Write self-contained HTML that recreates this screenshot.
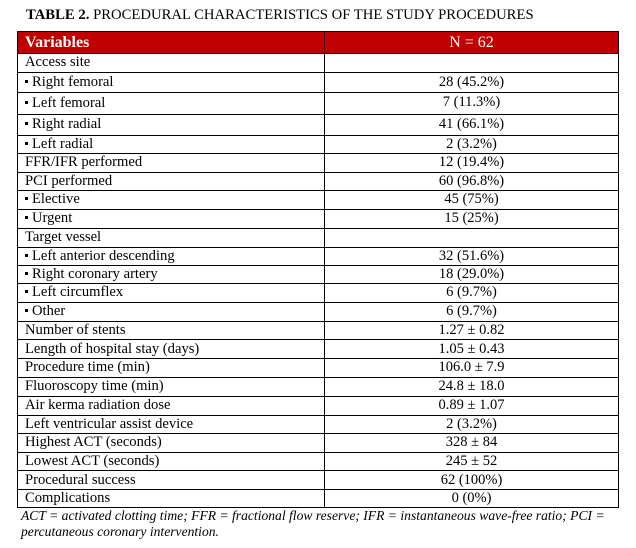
<!DOCTYPE html>
<html><head><meta charset="utf-8">
<style>
html,body{margin:0;padding:0;background:#fff;}
body{width:636px;height:548px;position:relative;overflow:hidden;font-family:"Liberation Serif",serif;color:#000;}
.t{position:absolute;left:26px;top:6px;font-size:14.7px;white-space:nowrap;line-height:18px;}
.hdr{position:absolute;left:17px;top:31px;width:601px;height:22px;background:#c00000;}
.h{position:absolute;height:1px;background:#000;left:17px;width:602px;}
.v{position:absolute;width:1px;background:#000;top:31px;height:477px;}
.c1{position:absolute;left:25px;white-space:nowrap;font-size:14.6px;}
.c2{position:absolute;left:324px;width:295px;text-align:center;white-space:nowrap;font-size:14.5px;}
.b{display:inline-block;width:3px;height:3px;background:#000;vertical-align:middle;margin-right:4px;position:relative;top:-1px;}
.fn{position:absolute;left:21px;font-style:italic;font-size:13.6px;white-space:nowrap;line-height:16px;}
</style></head><body>
<div class="t"><b>TABLE 2.</b> PROCEDURAL CHARACTERISTICS OF THE STUDY PROCEDURES</div>
<div class="hdr"></div>
<div class="c1" style="top:32px;height:22px;line-height:22px;color:#fff;font-weight:bold;font-size:16px;">Variables</div>
<div class="c2" style="top:32px;height:22px;line-height:22px;color:#fff;font-size:16px;">N = 62</div>

<div class="c1" style="top:53px;line-height:19px;">Access site</div>
<div class="c1" style="top:72px;line-height:20px;"><span class="b"></span>Right femoral</div><div class="c2" style="top:72px;line-height:20px;">28 (45.2%)</div>
<div class="c1" style="top:92px;line-height:22px;"><span class="b"></span>Left femoral</div><div class="c2" style="top:92px;line-height:20px;">7 (11.3%)</div>
<div class="c1" style="top:114px;line-height:21px;"><span class="b"></span>Right radial</div><div class="c2" style="top:114px;line-height:20px;">41 (66.1%)</div>
<div class="c1" style="top:135px;line-height:19px;"><span class="b"></span>Left radial</div><div class="c2" style="top:135px;line-height:19px;">2 (3.2%)</div>
<div class="c1" style="top:153px;line-height:19px;">FFR/IFR performed</div><div class="c2" style="top:153px;line-height:19px;">12 (19.4%)</div>
<div class="c1" style="top:172px;line-height:19px;">PCI performed</div><div class="c2" style="top:172px;line-height:19px;">60 (96.8%)</div>
<div class="c1" style="top:190px;line-height:19px;"><span class="b"></span>Elective</div><div class="c2" style="top:190px;line-height:19px;">45 (75%)</div>
<div class="c1" style="top:209px;line-height:19px;"><span class="b"></span>Urgent</div><div class="c2" style="top:209px;line-height:19px;">15 (25%)</div>
<div class="c1" style="top:228px;line-height:19px;">Target vessel</div>
<div class="c1" style="top:247px;line-height:19px;"><span class="b"></span>Left anterior descending</div><div class="c2" style="top:247px;line-height:19px;">32 (51.6%)</div>
<div class="c1" style="top:265px;line-height:19px;"><span class="b"></span>Right coronary artery</div><div class="c2" style="top:265px;line-height:19px;">18 (29.0%)</div>
<div class="c1" style="top:283px;line-height:19px;"><span class="b"></span>Left circumflex</div><div class="c2" style="top:283px;line-height:19px;">6 (9.7%)</div>
<div class="c1" style="top:302px;line-height:19px;"><span class="b"></span>Other</div><div class="c2" style="top:302px;line-height:19px;">6 (9.7%)</div>
<div class="c1" style="top:321px;line-height:19px;">Number of stents</div><div class="c2" style="top:321px;line-height:19px;">1.27 ± 0.82</div>
<div class="c1" style="top:340px;line-height:19px;">Length of hospital stay (days)</div><div class="c2" style="top:340px;line-height:19px;">1.05 ± 0.43</div>
<div class="c1" style="top:358px;line-height:19px;">Procedure time (min)</div><div class="c2" style="top:358px;line-height:19px;">106.0 ± 7.9</div>
<div class="c1" style="top:377px;line-height:19px;">Fluoroscopy time (min)</div><div class="c2" style="top:377px;line-height:19px;">24.8 ± 18.0</div>
<div class="c1" style="top:396px;line-height:19px;">Air kerma radiation dose</div><div class="c2" style="top:396px;line-height:19px;">0.89 ± 1.07</div>
<div class="c1" style="top:415px;line-height:19px;">Left ventricular assist device</div><div class="c2" style="top:415px;line-height:19px;">2 (3.2%)</div>
<div class="c1" style="top:433px;line-height:19px;">Highest ACT (seconds)</div><div class="c2" style="top:433px;line-height:19px;">328 ± 84</div>
<div class="c1" style="top:452px;line-height:19px;">Lowest ACT (seconds)</div><div class="c2" style="top:452px;line-height:19px;">245 ± 52</div>
<div class="c1" style="top:471px;line-height:19px;">Procedural success</div><div class="c2" style="top:471px;line-height:19px;">62 (100%)</div>
<div class="c1" style="top:489px;line-height:19px;">Complications</div><div class="c2" style="top:489px;line-height:19px;">0 (0%)</div>

<div class="h" style="top:31px"></div>
<div class="h" style="top:53px"></div>
<div class="h" style="top:72px"></div>
<div class="h" style="top:92px"></div>
<div class="h" style="top:114px"></div>
<div class="h" style="top:135px"></div>
<div class="h" style="top:153px"></div>
<div class="h" style="top:172px"></div>
<div class="h" style="top:190px"></div>
<div class="h" style="top:209px"></div>
<div class="h" style="top:228px"></div>
<div class="h" style="top:247px"></div>
<div class="h" style="top:265px"></div>
<div class="h" style="top:283px"></div>
<div class="h" style="top:302px"></div>
<div class="h" style="top:321px"></div>
<div class="h" style="top:339px"></div>
<div class="h" style="top:358px"></div>
<div class="h" style="top:377px"></div>
<div class="h" style="top:396px"></div>
<div class="h" style="top:415px"></div>
<div class="h" style="top:433px"></div>
<div class="h" style="top:452px"></div>
<div class="h" style="top:470px"></div>
<div class="h" style="top:489px"></div>
<div class="h" style="top:507px"></div>
<div class="v" style="left:17px"></div>
<div class="v" style="left:324px"></div>
<div class="v" style="left:618px"></div>

<div class="fn" style="top:508px;">ACT = activated clotting time; FFR = fractional flow reserve; IFR = instantaneous wave-free ratio; PCI =</div>
<div class="fn" style="top:524px;">percutaneous coronary intervention.</div>
</body></html>
